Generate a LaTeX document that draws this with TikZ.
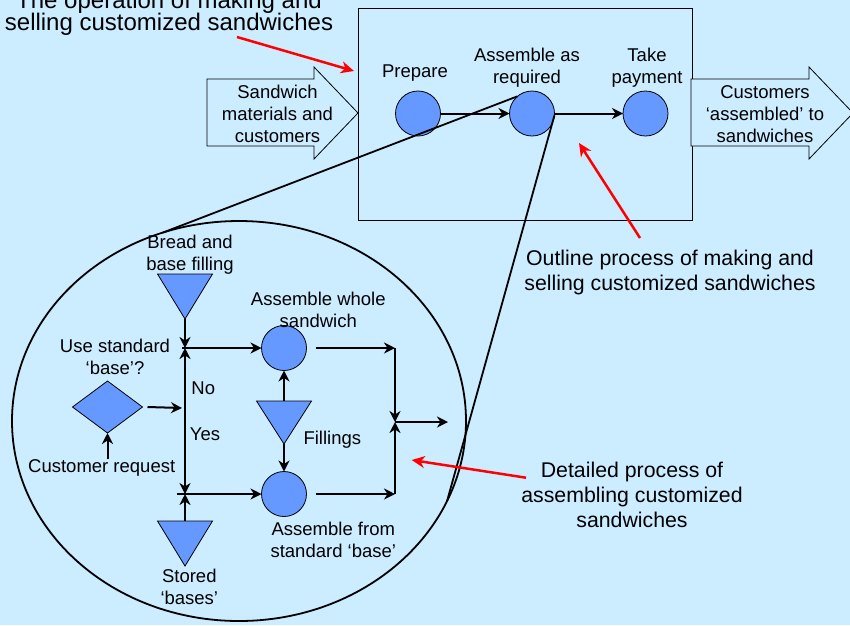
\documentclass[tikz,border=0pt]{standalone}
\usepackage{fontspec}
\setmainfont{Liberation Sans}
\usetikzlibrary{arrows.meta,shapes.geometric}
\definecolor{paper}{HTML}{CCECFF}
\definecolor{stage}{HTML}{6699FF}
\begin{document}
\begin{tikzpicture}[x=1pt,y=-1pt,
  every node/.style={inner sep=0pt, outer sep=0pt},
  small/.style={font=\fontsize{18.5}{22}\selectfont, align=center},
  large/.style={font=\fontsize{21.3}{25}\selectfont, align=center},
  headline/.style={font=\fontsize{24}{22.5}\selectfont, align=center},
  activity/.style={circle, draw, line width=0.8pt, fill=stage, minimum size=45pt},
  store/.style={draw, line width=0.8pt, fill=stage, line join=miter},
  decision/.style={diamond, draw, line width=0.8pt, fill=stage, minimum width=70pt, minimum height=52pt, shape aspect=1.35},
  flow/.style={line width=2pt, -{Stealth[length=11pt,width=11pt,inset=3.5pt]}},
  callout/.style={red, line width=2.5pt, -{Stealth[length=13pt,width=12pt,inset=4pt]}},
  zoomline/.style={line width=1.8pt},
  blockarrow/.style={draw, line width=0.8pt, fill=paper, line join=miter},
]
% page
\fill[paper] (0,0) rectangle (850,625);
\useasboundingbox (0,0) rectangle (850,625);

% ---- outline process ----
\node[draw, line width=0.8pt, minimum width=334pt, minimum height=212pt] (op) at (525,114) {};

\draw[blockarrow] (207,79) -- (314,79) -- (314,67) -- (358,113) -- (314,159) -- (314,146) -- (207,146) -- cycle;
\node[small] (inflow) at (277.5,114) {Sandwich\\materials and\\customers};
\draw[blockarrow] (691,79) -- (809,79) -- (809,67) -- (853,113) -- (809,159) -- (809,146) -- (691,146) -- cycle;
\node[small] (outflow) at (765,114) {Customers\\‘assembled’ to\\sandwiches};

\node[activity] (prep) at (418,113.5) {};
\node[activity] (asm) at (532,113.5) {};
\node[activity] (pay) at (645.5,113.5) {};
\node[small] (preplbl) at (415,73.5) {Prepare};
\node[small] (asmlbl) at (527,67.5) {Assemble as\\required};
\node[small] (paylbl) at (647,67.5) {Take\\payment};
\draw[flow] (prep) -- (asm);
\draw[flow] (asm) -- (pay);

% ---- detailed process ----
\node[ellipse, draw, line width=1.8pt, minimum width=454pt, minimum height=400pt] (detail) at (239,421) {};

% stores (inverted triangles)
\draw[store] (157.5,274) -- (212.5,274) -- (185,319) -- cycle;
\coordinate (breadtip) at (185,319);
\draw[store] (157.5,521) -- (212.5,521) -- (185,566) -- cycle;
\coordinate (basetop) at (185,521);
\draw[store] (256.5,401) -- (311.5,401) -- (284,444) -- cycle;
\coordinate (filltop) at (284,401);
\coordinate (filltip) at (284,444);

\node[small] (breadlbl) at (190,254.5) {Bread and\\base filling};
\node[small] (baselbl) at (189.3,587.3) {Stored\\‘bases’};
\node[small] (filllbl) at (332.3,439.3) {Fillings};

% decision
\node[decision] (choice) at (107.5,407) {};
\node[small] (choicelbl) at (115,357.3) {Use standard\\‘base’?};
\node[small] (req) at (101.7,467.7) {Customer request};
\node[small] (no) at (203.3,388.7) {No};
\node[small] (yes) at (205,434.3) {Yes};

% activities
\node[activity] (aw) at (284,348) {};
\node[activity] (af) at (284,494) {};
\node[small] (awlbl) at (318.3,309.9) {Assemble whole\\sandwich};
\node[small] (aflbl) at (333.3,540.3) {Assemble from\\standard ‘base’};

% junctions
\coordinate (j1) at (185,348);
\coordinate (split) at (185,408);
\coordinate (j2) at (185,494);
\coordinate (m1) at (395,348);
\coordinate (m2) at (395,494);
\coordinate (merge) at (395,422);
\coordinate (out) at (448,422);

\draw[flow] (req.north -| choice.south) -- (choice.south);
\draw[flow] ([xshift=5pt]choice.east) -- ([xshift=-3pt]split);
\draw[flow] (breadtip) -- (j1);
\draw[flow] (split) -- (j1);
\draw[flow] (split) -- (j2);
\draw[flow] (basetop) -- (j2);
\draw[flow] ([xshift=-3pt]j1) -- (aw);
\draw[flow] ([xshift=-8pt]j2) -- (af);
\draw[flow] (filltop) -- (aw);
\draw[flow] (filltip) -- (af);
\draw[flow] ([xshift=9pt]aw.east) -- (m1);
\draw[flow] ([xshift=9pt]af.east) -- (m2);
\draw[flow] (m1) -- (merge);
\draw[flow] (m2) -- (merge);
\draw[flow] (merge) -- (out);

% ---- zoom lines ----
\draw[zoomline] (asm.130) -- (detail.112);
\draw[zoomline] (asm.-5) -- (detail.-21);

% ---- captions ----
\node[headline] (title) at (169,13.5) {The operation of making and\\selling customized sandwiches};
\node[large] (outline) at (670,272.8) {Outline process of making and\\selling customized sandwiches};
\node[large] (detailed) at (632,495.3) {Detailed process of\\assembling customized\\sandwiches};

\coordinate (titletail) at (237,37);
\coordinate (titlehead) at (354,71);
\coordinate (outlinetail) at (640,238);
\coordinate (outlinehead) at (579,143);
\coordinate (detailtail) at (526,477.7);
\coordinate (detailhead) at (411.7,460);
\draw[callout] (titletail) -- (titlehead);
\draw[callout] (outlinetail) -- (outlinehead);
\draw[callout] (detailtail) -- (detailhead);
\end{tikzpicture}
\end{document}
